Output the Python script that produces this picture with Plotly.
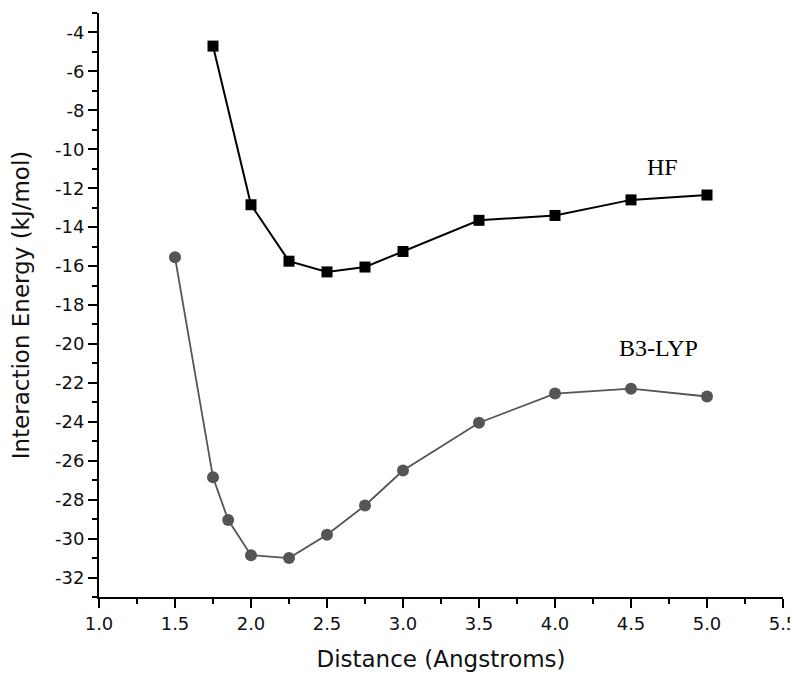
import plotly.graph_objects as go

hf_x = [1.75, 2.0, 2.25, 2.5, 2.75, 3.0, 3.5, 4.0, 4.5, 5.0]
hf_y = [-4.7, -12.85, -15.75, -16.3, -16.05, -15.25, -13.65, -13.4, -12.6, -12.35]

b3_x = [1.5, 1.75, 1.85, 2.0, 2.25, 2.5, 2.75, 3.0, 3.5, 4.0, 4.5, 5.0]
b3_y = [-15.55, -26.85, -29.05, -30.85, -31.0, -29.8, -28.3, -26.5, -24.05, -22.55, -22.3, -22.7]

y_ticks = list(range(-32, -3, 2))
y_ticklabels = [str(v) for v in y_ticks]
x_ticks = [1.0, 1.5, 2.0, 2.5, 3.0, 3.5, 4.0, 4.5, 5.0, 5.5]
x_ticklabels = [f"{v:.1f}" for v in x_ticks]

fig = go.Figure()
fig.add_trace(go.Scatter(x=hf_x, y=hf_y, mode="lines+markers", name="HF",
                         line=dict(color="black", width=2),
                         marker=dict(symbol="square", size=11, color="black")))
fig.add_trace(go.Scatter(x=b3_x, y=b3_y, mode="lines+markers", name="B3-LYP",
                         line=dict(color="#555555", width=1.8),
                         marker=dict(symbol="circle", size=12, color="#555555")))

fig.add_annotation(x=4.71, y=-10.9, text="HF", showarrow=False,
                   font=dict(family="Liberation Serif", size=24, color="black"))
fig.add_annotation(x=4.68, y=-20.2, text="B3-LYP", showarrow=False,
                   font=dict(family="Liberation Serif", size=24, color="black"))

axis_common = dict(showgrid=False, zeroline=False, showline=True, linecolor="black",
                   linewidth=2, ticks="outside", ticklen=9, tickwidth=2, tickcolor="black",
                   tickfont=dict(family="DejaVu Sans", size=18, color="#111"),
                   mirror=False, automargin=False)

fig.update_xaxes(range=[1.0, 5.5], tickvals=x_ticks, ticktext=x_ticklabels,
                 minor=dict(dtick=0.25, tick0=1.0, ticks="outside", ticklen=5, tickwidth=2, tickcolor="black"),
                 title=dict(text="Distance (Angstroms)", standoff=18,
                            font=dict(family="DejaVu Sans", size=23, color="#111")),
                 **axis_common)
fig.update_yaxes(range=[-33, -3], tickvals=y_ticks, ticktext=y_ticklabels,
                 minor=dict(dtick=1, tick0=-4, ticks="outside", ticklen=5, tickwidth=2, tickcolor="black"),
                 title=dict(text="Interaction Energy (kJ/mol)", standoff=19,
                            font=dict(family="DejaVu Sans", size=23, color="#111")),
                 **axis_common)

fig.update_layout(width=790, height=666, showlegend=False,
                  plot_bgcolor="white", paper_bgcolor="white",
                  margin=dict(l=91, r=15, t=5, b=77))

fig.write_html("out.html")
